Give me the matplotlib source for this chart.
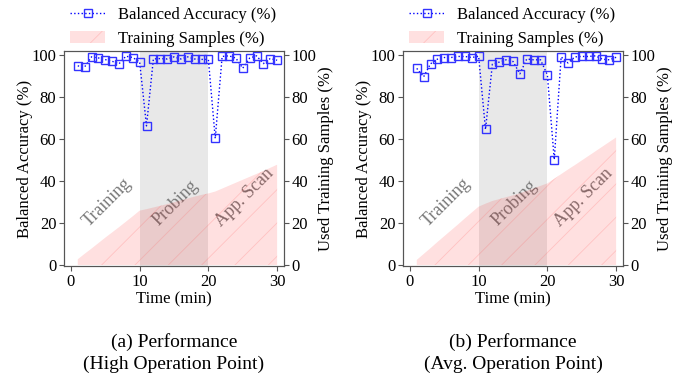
import matplotlib.pyplot as plt
from matplotlib.patches import Patch
from matplotlib.lines import Line2D

plt.rcParams['font.family'] = ['Liberation Serif', 'DejaVu Serif']
plt.rcParams['hatch.linewidth'] = 0.6

minutes = list(range(1, 31))

# balanced accuracy (%), high operation point
acc_high = [94.9, 94.4, 99.2, 98.7, 97.9, 97.1, 95.9, 99.5, 98.9, 96.8,
            66.3, 98.2, 98.4, 98.2, 99.2, 98.2, 99.2, 98.2, 98.0, 98.0,
            60.3, 99.4, 99.7, 98.6, 93.8, 98.6, 99.7, 96.0, 98.4, 97.6]
# used training samples (%), high operation point
samp_high = [2.7, 5.3, 7.8, 10.4, 13.0, 15.5, 18.0, 20.6, 23.2, 25.9,
             26.6, 27.4, 28.2, 29.0, 29.9, 30.8, 31.7, 32.6, 33.4, 34.1,
             35.0, 36.4, 37.8, 39.2, 40.6, 42.0, 43.4, 44.8, 46.3, 47.8]

# balanced accuracy (%), average operation point
acc_avg = [93.7, 89.7, 95.9, 98.1, 98.9, 98.9, 99.4, 99.4, 98.9, 99.5,
           64.6, 95.7, 96.7, 97.8, 97.0, 91.1, 98.2, 97.8, 97.8, 90.6,
           50.2, 99.2, 96.3, 99.2, 99.4, 99.4, 99.7, 98.1, 97.8, 99.0]
# used training samples (%), average operation point
samp_avg = [2.4, 5.2, 8.0, 10.9, 13.7, 16.5, 19.3, 22.2, 25.0, 27.8,
            29.2, 30.5, 31.4, 32.3, 33.2, 34.2, 35.3, 36.5, 37.7, 38.9,
            41.1, 43.3, 45.5, 47.6, 49.8, 52.0, 54.2, 56.4, 58.6, 60.8]

phases = ['Training', 'Probing', 'App. Scan']
phase_x = [5.3, 15.3, 25.2]
phase_y = [30, 29.5, 32]

captions = ['(a) Performance\n(High Operation Point)',
            '(b) Performance\n(Avg. Operation Point)']

fig = plt.figure(figsize=(6.82, 3.77), dpi=100)
lefts = [64 / 682, 403 / 682]
panels = [(acc_high, samp_high), (acc_avg, samp_avg)]
spine_c = '#555555'

for i, (acc, samp) in enumerate(panels):
    ax = fig.add_axes([lefts[i], 1 - 266 / 377, 220 / 682, 215 / 377])
    ax2 = ax.twinx()

    ax.axvspan(10, 20, color='lightgray', alpha=0.5, lw=0)
    for name, px, py in zip(phases, phase_x, phase_y):
        ax.text(px, py, name, rotation=45, ha='center', va='center',
                fontsize=13, color='#777777')
    ax.plot(minutes, acc, ls=':', color='blue', marker='s', ms=6,
            mfc='none', mec='#3333ff', mew=1.0, lw=1, zorder=5)

    ax2.fill_between(minutes, 0, samp, facecolor=(1, 0, 0, 0.12),
                     edgecolor=(1, 0.4, 0.4, 0.25), hatch='/', lw=0)

    for a in (ax, ax2):
        a.set_xlim(-1, 31)
        a.set_ylim(-0.5, 102)
        a.set_yticks([0, 20, 40, 60, 80, 100])
        a.tick_params(labelsize=12, color=spine_c, pad=2)
        for s in a.spines.values():
            s.set_color(spine_c)
    ax.set_xticks([0, 10, 20, 30])

    ax.set_xlabel('Time (min)', fontsize=12, labelpad=1)
    ax.set_ylabel('Balanced Accuracy (%)', fontsize=12, labelpad=-1)
    ax2.set_ylabel('Used Training Samples (%)', fontsize=12, labelpad=1)

    handles = [Line2D([], [], ls=':', color='blue', marker='s', ms=6,
                      mfc='none', mec='#3333ff', lw=1),
               Patch(facecolor=(1, 0, 0, 0.12), edgecolor=(1, 0.4, 0.4, 0.25),
                     hatch='/', lw=0)]
    ax.legend(handles, ['Balanced Accuracy (%)', 'Training Samples (%)'],
              loc='lower left', bbox_to_anchor=(-0.01, 0.98), frameon=False,
              fontsize=12, handlelength=2.1, labelspacing=0.5,
              borderaxespad=0.1)

    fig.text(lefts[i] + 110 / 682, 1 - 353 / 377, captions[i], ha='center',
             va='center', fontsize=14, linespacing=1.35)

fig.savefig('out.png', dpi=100)
